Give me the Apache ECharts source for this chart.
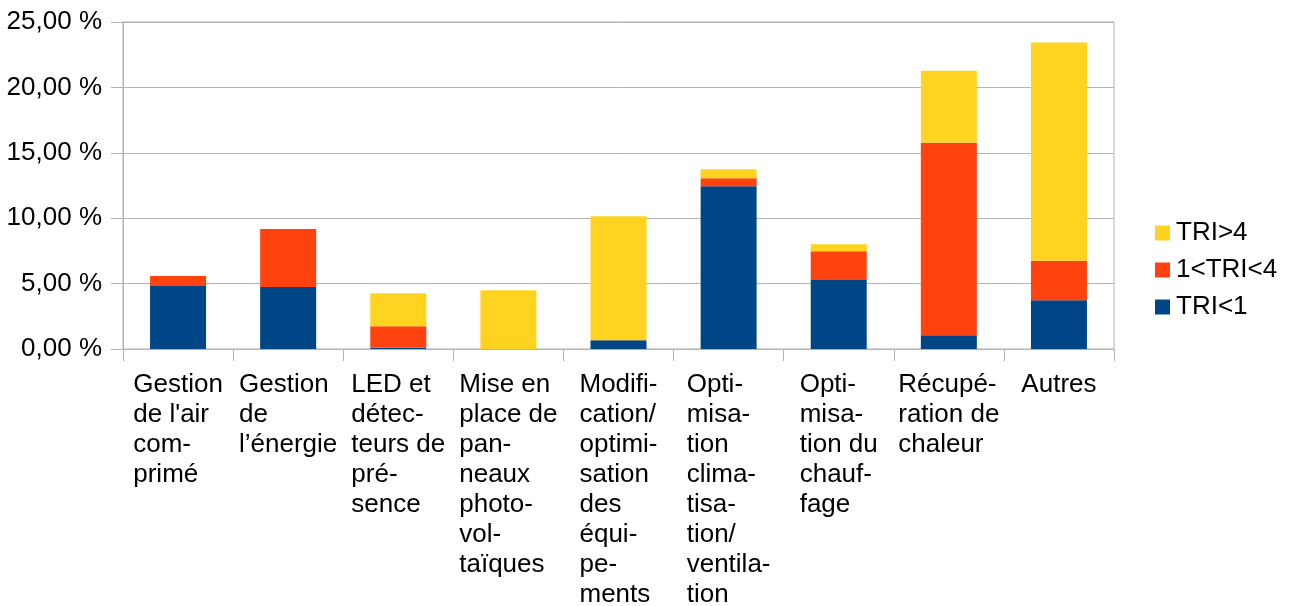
<!DOCTYPE html>
<html>
<head>
<meta charset="utf-8">
<script src="https://cdn.jsdelivr.net/npm/echarts@6/dist/echarts.min.js"></script>
<style>html,body{margin:0;padding:0;background:#fff;}#chart{width:1289px;height:606px;}</style>
</head>
<body>
<div id="chart"></div>
<script>
const categories = [
  "Gestion\nde l'air\ncom-\nprimé",
  "Gestion\nde\nl’énergie",
  "LED et\ndétec-\nteurs de\npré-\nsence",
  "Mise en\nplace de\npan-\nneaux\nphoto-\nvol-\ntaïques",
  "Modifi-\ncation/\noptimi-\nsation\ndes\néqui-\npe-\nments",
  "Opti-\nmisa-\ntion\nclima-\ntisa-\ntion/\nventila-\ntion",
  "Opti-\nmisa-\ntion du\nchauf-\nfage",
  "Récupé-\nration de\nchaleur",
  "Autres"
];
const triLt1 = [4.82, 4.74, 0.10, 0, 0.66, 12.44, 5.28, 1.06, 3.72];
const tri1to4 = [0.77, 4.44, 1.64, 0, 0, 0.62, 2.20, 14.70, 3.02];
const triGt4 = [0, 0, 2.52, 4.50, 9.48, 0.69, 0.53, 5.52, 16.69];
const yTicks = { min: 0, max: 25, interval: 5 };

const FONT = '"Liberation Sans", Arial, sans-serif';
const chart = echarts.init(document.getElementById('chart'), null, { renderer: 'canvas' });
chart.setOption({
  animation: false,
  grid: { left: 123, right: 175, top: 22, bottom: 257, containLabel: false, outerBoundsMode: 'none', show: true, borderColor: '#b3b3b3', borderWidth: 1, backgroundColor: 'transparent' },
  legend: {
    orient: 'vertical', left: 1150, top: 215,
    data: ['TRI>4', '1<TRI<4', 'TRI<1'],
    icon: 'rect', itemWidth: 15, itemHeight: 15, itemGap: 11,
    textStyle: { fontFamily: FONT, fontSize: 26, color: '#000', padding: [0, 0, 0, 1] }
  },
  xAxis: {
    type: 'category', data: categories,
    axisLine: { lineStyle: { color: '#b3b3b3', width: 1 } },
    axisTick: { show: true, length: 12, lineStyle: { color: '#b3b3b3' } },
    axisLabel: {
      interval: 0, margin: 21, color: '#000', fontFamily: FONT, fontSize: 26, lineHeight: 30,
      formatter: function (v) { return v.split('\n').map(function (l) { return '{a|' + l + '}'; }).join('\n'); },
      rich: { a: { align: 'left', fontFamily: FONT, fontSize: 26, lineHeight: 30, color: '#000' } }
    }
  },
  yAxis: {
    type: 'value', min: yTicks.min, max: yTicks.max, interval: yTicks.interval,
    axisLine: { show: true, lineStyle: { color: '#b3b3b3', width: 1 } },
    axisTick: { show: true, length: 12, lineStyle: { color: '#b3b3b3' } },
    splitLine: { lineStyle: { color: '#b3b3b3', width: 1 } },
    axisLabel: {
      margin: 21, color: '#000', fontFamily: FONT, fontSize: 26, padding: [4, 0, 0, 0],
      formatter: function (v) { return v.toFixed(2).replace('.', ',') + ' %'; }
    }
  },
  series: [
    { name: 'TRI<1', type: 'bar', stack: 's', data: triLt1, barWidth: 56, itemStyle: { color: '#004586' } },
    { name: '1<TRI<4', type: 'bar', stack: 's', data: tri1to4, barWidth: 56, itemStyle: { color: '#ff420e' } },
    { name: 'TRI>4', type: 'bar', stack: 's', data: triGt4, barWidth: 56, itemStyle: { color: '#ffd320' } }
  ]
});
</script>
</body>
</html>
